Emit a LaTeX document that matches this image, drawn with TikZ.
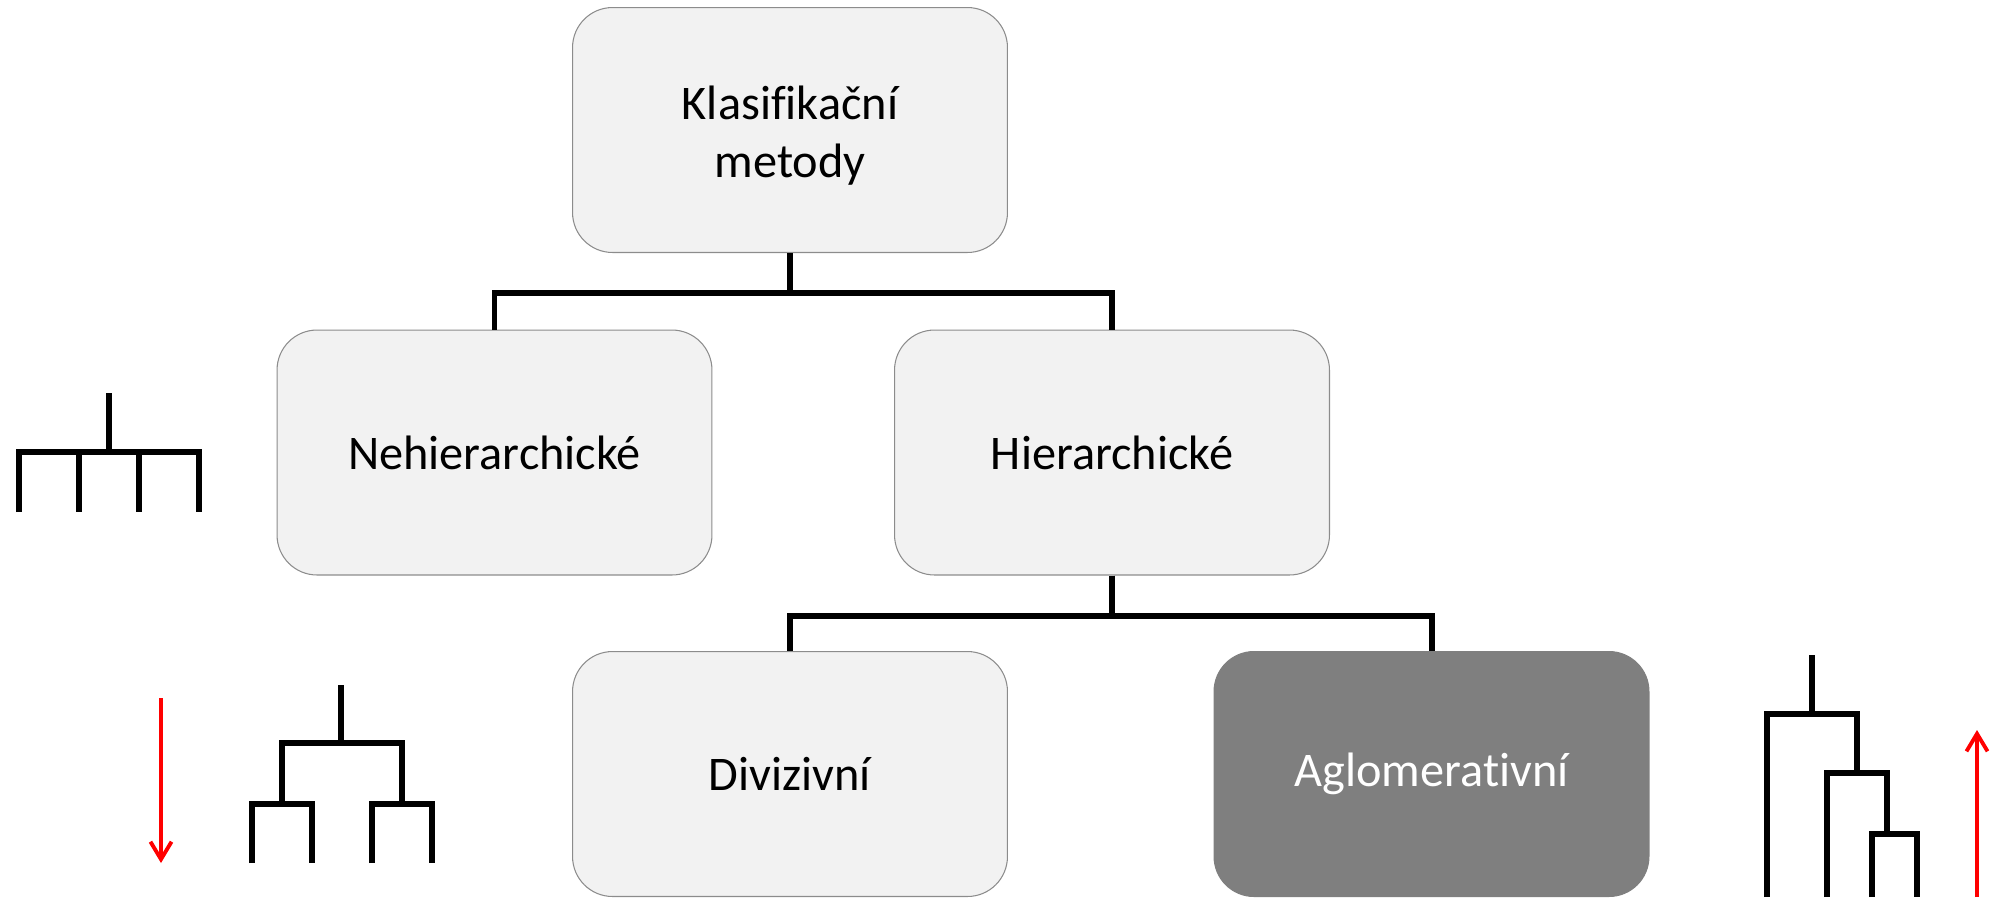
\documentclass[tikz,border=0pt]{standalone}
\usepackage{fontspec}
\setmainfont{Carlito}[Ligatures=NoCommon]
\usetikzlibrary{arrows.meta}
\definecolor{boxfill}{HTML}{F2F2F2}
\definecolor{boxline}{HTML}{8C8C8C}
\definecolor{darkfill}{HTML}{7F7F7F}
\tikzset{
    method/.style={draw=boxline, line width=0.6pt, fill=boxfill, rounded corners=0.8cm,
        minimum width=8.7cm, minimum height=4.9cm, align=center,
        font=\fontsize{27.5}{33}\selectfont},
    chosen/.style={method, draw=darkfill, fill=darkfill, text=white},
    conn/.style={line width=3.4pt},
    dendro/.style={line width=3.4pt},
    trend/.style={red, line width=2.2pt, -{Straight Barb[length=10pt, width=12pt]}}
}
\begin{document}
\begin{tikzpicture}[line join=miter, x=0.02cm, y=-0.02cm]
                \useasboundingbox (0, 0) rectangle (1991, 897);
                \node[method] (klas) at (790, 130) {\rule{0pt}{26pt}Klasifikační\\metody};
                \node[method] (nehier) at (494.5, 452.5) {Nehierarchické};
                \node[method] (hier) at (1112, 452.5) {Hierarchické};
                \node[method] (divis) at (790, 774) {Divizivní};
                \node[chosen] (aglom) at (1431.5, 774) {Aglomerativní};
                \draw[conn] (klas.south) -- ++(0, 40) -| (nehier.north);
                \draw[conn] (klas.south) -- ++(0, 40) -| (hier.north);
                \draw[conn] (hier.south) -- ++(0, 40) -| (divis.north);
                \draw[conn] (hier.south) -- ++(0, 40) -| (aglom.north);
                % flat clustering
                \draw[dendro] (109, 393) -- (109, 452);
                \draw[dendro] (19, 512) -- (19, 452) -- (199, 452) -- (199, 512);
                \foreach \x in {79, 139}
                    \draw[dendro] (\x, 452) -- (\x, 512);
                % top-down
                \coordinate (downstart) at (161, 698);
                \coordinate (downend) at (161, 863);
                \draw[trend] (downstart) -- (downend);
                \draw[dendro] (341, 685) -- (341, 743);
                \draw[dendro] (282, 804) -- (282, 743) -- (402, 743) -- (402, 804);
                \foreach \l/\r in {252/312, 372/432}
                    \draw[dendro] (\l, 863) -- (\l, 804) -- (\r, 804) -- (\r, 863);
                % bottom-up
                \coordinate (upstart) at (1977, 897);
                \coordinate (upend) at (1977, 730);
                \draw[trend] (upstart) -- (upend);
                \draw[dendro] (1812, 655) -- (1812, 714);
                \draw[dendro] (1767, 897) -- (1767, 714) -- (1857, 714) -- (1857, 773);
                \draw[dendro] (1827, 897) -- (1827, 773) -- (1887, 773) -- (1887, 834);
                \draw[dendro] (1872, 897) -- (1872, 834) -- (1917, 834) -- (1917, 897);
            \end{tikzpicture}
\end{document}
